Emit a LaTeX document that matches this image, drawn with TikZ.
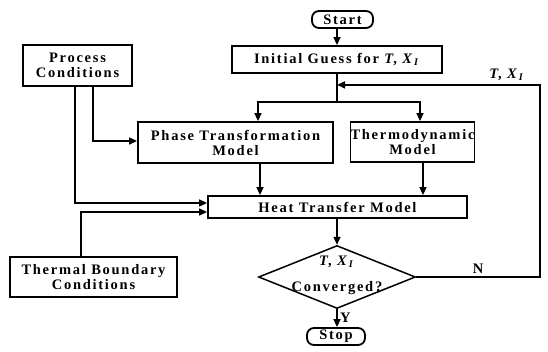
\documentclass[tikz,border=0pt]{standalone}
\usepackage{fontspec}
\setmainfont{Liberation Serif}[LetterSpace=12]
\usetikzlibrary{shapes.geometric,arrows.meta,calc}
\begin{document}
\begin{tikzpicture}[x=1pt,y=-1pt,
  box/.style={draw,line width=1.8pt,inner sep=0pt,align=center,font=\fontsize{14.5}{15}\selectfont\bfseries},
  rbox/.style={box,rounded corners=7pt},
  conn/.style={line width=1.5pt},
  arr/.style={conn,-{Triangle[length=8pt,width=7pt]}},
  lab/.style={font=\fontsize{14.5}{15}\selectfont\bfseries,inner sep=0pt}]
\useasboundingbox (0,0) rectangle (548,351);
\node[rbox,minimum width=61pt,minimum height=17pt] (start) at (342.5,19.5) {Start};
\node[box,minimum width=210pt,minimum height=27pt] (init) at (337,59.5) {Initial Guess for \textit{T}, \textit{X}\textsubscript{\textit{I}}};
\node[box,minimum width=109pt,minimum height=41pt] (proc) at (77.5,65.5) {Process\\Conditions};
\node[box,minimum width=195pt,minimum height=41pt] (phase) at (235.5,142.5) {Phase Transformation\\Model};
\node[box,minimum width=119pt,minimum height=40pt] (thermo) at (412.5,142) {Thermodynamic\\Model};
\node[box,minimum width=259pt,minimum height=22pt] (heat) at (337.5,207) {Heat Transfer Model};
\node[box,minimum width=167pt,minimum height=40pt] (tbc) at (93.5,277) {Thermal Boundary\\Conditions};
\node[draw,shape=diamond,line width=1.5pt,inner sep=0pt,minimum width=157pt,minimum height=63pt] (conv) at (337,277) {};
\node[lab,align=center] (convt) at (337,275) {\textit{T}, \textit{X}\textsubscript{\textit{I}}\\[11pt]Converged?};
\node[rbox,minimum width=58pt,minimum height=17pt] (stop) at (336,336.5) {Stop};

\coordinate (split) at ($(init.south)+(0,28)$);
\coordinate (fb) at ($(init.south)+(0,11)$);
\coordinate (right) at (540,0);
\coordinate (pa) at ($(phase.north)+(22.5,0)$);
\coordinate (ta) at ($(thermo.north)+(7.5,0)$);
\coordinate (pb) at ($(phase.south)+(24.5,0)$);
\coordinate (tb) at ($(thermo.south)+(10.5,0)$);
\coordinate (p1) at ($(proc.south)+(-2.5,0)$);
\coordinate (p2) at ($(proc.south)+(15.5,0)$);
\coordinate (t1) at ($(tbc.north)+(-12.5,0)$);
\coordinate (h1) at ($(heat.west)+(0,-4)$);
\coordinate (h2) at ($(heat.west)+(0,5)$);
\coordinate (ph1) at ($(phase.west)+(0,-1.5)$);

\draw[arr] (start.south -| init.north) -- (init.north);
\draw[conn] (init.south) -- (split);
\draw[arr] (split) -| (pa);
\draw[arr] (split) -| (ta);
\draw[arr] (pb) -- (pb |- heat.north);
\draw[arr] (tb) -- (tb |- heat.north);
\draw[arr] (p1) |- (h1);
\draw[arr] (p2) |- (ph1);
\draw[arr] (t1) |- (h2);
\draw[arr] (heat.south -| conv.north) -- (conv.north);
\draw[arr] (conv.south) -- (stop.north -| conv.south);
\draw[arr] (conv.east) -| (right |- fb) node[lab,pos=0.25,above=3pt] {N} -- (fb);
\node[lab,anchor=south] (tx) at (507,81) {\textit{T}, \textit{X}\textsubscript{\textit{I}}};
\node[lab,anchor=west] (y) at (340,318) {Y};
\end{tikzpicture}
\end{document}
